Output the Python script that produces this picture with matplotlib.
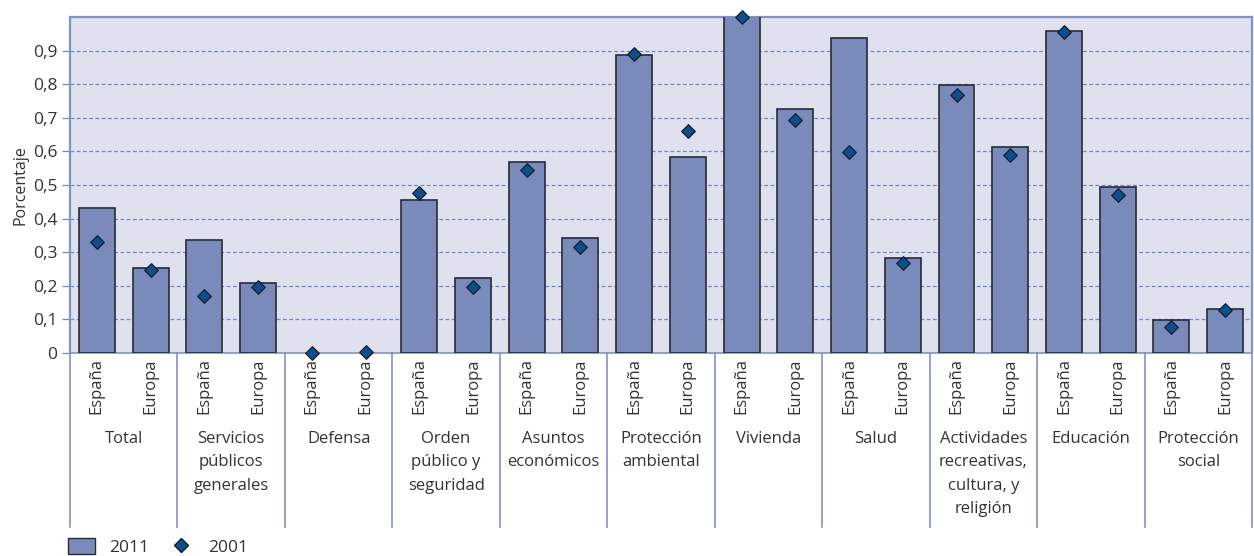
import numpy as np
import matplotlib.pyplot as plt
from matplotlib.lines import Line2D
from matplotlib.patches import Patch

plt.rcParams['font.family'] = ['Open Sans', 'DejaVu Sans']

# Gasto por función: España y Europa, 2011 (barras) y 2001 (rombos)
categorias = ['Total', 'Servicios\npúblicos\ngenerales', 'Defensa',
              'Orden\npúblico y\nseguridad', 'Asuntos\neconómicos',
              'Protección\nambiental', 'Vivienda', 'Salud',
              'Actividades\nrecreativas,\ncultura, y\nreligión',
              'Educación', 'Protección\nsocial']
regiones = ['España', 'Europa']

espana_2011 = [0.432, 0.337, 0.0, 0.454, 0.567, 0.888, 1.05, 0.937, 0.798, 0.957, 0.099]
europa_2011 = [0.254, 0.209, 0.0, 0.222, 0.341, 0.583, 0.726, 0.284, 0.613, 0.493, 0.132]
espana_2001 = [0.330, 0.169, 0.0, 0.476, 0.545, 0.889, 1.000, 0.598, 0.768, 0.956, 0.078]
europa_2001 = [0.246, 0.196, 0.003, 0.196, 0.316, 0.660, 0.693, 0.269, 0.588, 0.471, 0.127]

valores_2011 = np.column_stack([espana_2011, europa_2011]).ravel()
valores_2001 = np.column_stack([espana_2001, europa_2001]).ravel()

W, H = 1254, 556
fig = plt.figure(figsize=(W / 100, H / 100), dpi=100)
ax = fig.add_axes([70 / W, (H - 353) / H, 1182 / W, 336 / H])

azul_borde = '#8093c6'
texto = '#333333'
ax.set_facecolor('#dfe2ee')

x = np.arange(len(valores_2011)) + 0.5
# las barras a cero no llevan borde
bordes = [1.2 if v > 0 else 0 for v in valores_2011]
ax.bar(x, valores_2011, width=0.67, color='#7a8bbb', edgecolor='#2a2a32',
       linewidth=bordes, zorder=3)
ax.scatter(x, valores_2001, marker='D', s=48, color='#0b4f8f',
           edgecolor='#1c1c28', linewidth=0.9, zorder=4, clip_on=False)

ax.set_xlim(0, len(x))
ax.set_ylim(0, 1.0)
yt = np.arange(0, 1.0, 0.1)
ax.set_yticks(yt)
ax.set_yticklabels(['0'] + [f'{v:.1f}'.replace('.', ',') for v in yt[1:]])
ax.yaxis.grid(True, linestyle=(0, (3, 2)), color='#7286c2', linewidth=0.9, zorder=1)
ax.tick_params(axis='y', length=6, width=0.9, color='#7286c2', labelsize=12.5,
               labelcolor=texto, pad=3)
ax.set_xticks([])
ax.set_ylabel('Porcentaje', fontsize=11.5, color=texto, labelpad=3)

for s in ax.spines.values():
    s.set_color(azul_borde)
    s.set_linewidth(1.6)
ax.spines['bottom'].set_linewidth(1.2)

# separadores de categoría bajo el eje
for i in range(len(categorias) + 1):
    ax.plot([2 * i, 2 * i], [0, -174 / 336], color=azul_borde, linewidth=1.2,
            clip_on=False, zorder=2)

for i, xi in enumerate(x):
    ax.text(xi, -0.015, regiones[i % 2], rotation=90, ha='center', va='top',
            fontsize=12, color=texto, transform=ax.get_xaxis_transform())

for j, cat in enumerate(categorias):
    ax.text(2 * j + 1, -0.232, cat, ha='center', va='top', fontsize=12,
            color=texto, linespacing=1.62, transform=ax.get_xaxis_transform())

handles = [Patch(facecolor='#7a8bbb', edgecolor='#2a2a32', linewidth=1.0),
           Line2D([], [], marker='D', linestyle='none', markersize=7,
                  markerfacecolor='#0b4f8f', markeredgecolor='#1c1c28')]
fig.legend(handles, ['2011', '2001'], loc='lower left', ncol=2, frameon=False,
           bbox_to_anchor=(52 / W, -0.028), fontsize=12.5, handlelength=1.6,
           handleheight=1.1, columnspacing=1.0, handletextpad=0.8,
           labelcolor=texto)

fig.savefig('out.png', dpi=100)
